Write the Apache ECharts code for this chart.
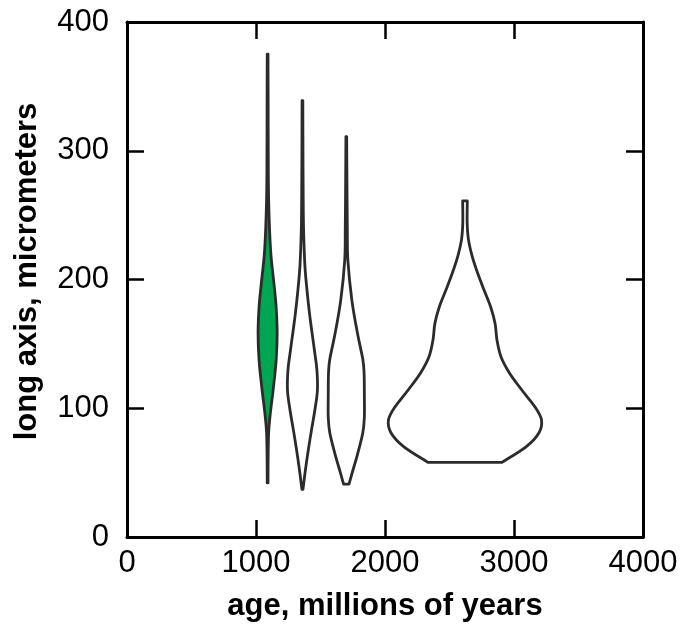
<!DOCTYPE html>
<html>
<head>
<meta charset="utf-8">
<script src="https://cdn.jsdelivr.net/npm/echarts@6/dist/echarts.min.js"></script>
<style>
  html, body { margin: 0; padding: 0; background: #fff; }
  #chart { width: 683px; height: 633px; }
</style>
</head>
<body>
<div id="chart"></div>
<script>
// ages (x centres of the violins), millions of years
const violinAges = [1090, 1360, 1700, 2620];
const violinFills = ['#00a651', 'none', 'none', 'none'];

// long axis levels (micrometers) and half-widths (in age units) for each violin
const v1Y = [42, 60, 81, 96, 116, 137, 158, 179, 197, 223, 262, 300, 340, 375];
const v1W = [3, 4, 8, 21, 45, 66, 74, 66, 49, 23, 8, 5, 4, 3];

const v2Y = [37, 52, 68, 83, 99, 114, 130, 145, 171, 192, 211, 238, 262, 300, 339];
const v2W = [4, 23, 46, 70, 97, 116, 112, 93, 58, 35, 19, 9, 6, 4, 3];

const v3Y = [41, 50, 65, 81, 93, 110, 127, 138, 158, 184, 215, 238, 277, 311];
const v3W = [21, 46, 89, 128, 140, 140, 138, 128, 87, 43, 12, 8, 5, 3];

const v4Y = [58, 70, 81, 91, 101, 114, 127, 140, 153, 166, 179, 192, 205, 218, 231, 244, 261];
const v4W = [287, 473, 574, 593, 543, 442, 347, 279, 248, 233, 198, 147, 98, 56, 27, 17, 18];

const violinYs = [v1Y, v2Y, v3Y, v4Y];
const violinWs = [v1W, v2W, v3W, v4W];

const xTicks = { min: 0, max: 4000, interval: 1000 };
const yTicks = { min: 0, max: 400, interval: 100 };

const font = 'Liberation Sans, Arial, Helvetica, sans-serif';

let myChart = echarts.init(document.getElementById('chart'));

// catmull-rom curve through the points of one side, as svg commands
function curveThrough(p) {
    let d = '';
    for (let i = 0; i < p.length - 1; i++) {
        let p0 = p[i - 1] || p[i], p1 = p[i], p2 = p[i + 1], p3 = p[i + 2] || p[i + 1];
        let c1 = [p1[0] + (p2[0] - p0[0]) / 6, p1[1] + (p2[1] - p0[1]) / 6];
        let c2 = [p2[0] - (p3[0] - p1[0]) / 6, p2[1] - (p3[1] - p1[1]) / 6];
        d += ' C' + c1[0] + ',' + c1[1] + ' ' + c2[0] + ',' + c2[1] + ' ' + p2[0] + ',' + p2[1];
    }
    return d;
}

function frameAxis(extra) {
    return Object.assign({
        type: 'value',
        axisLine: { show: true, onZero: false, lineStyle: { color: '#000', width: 3 } },
        axisTick: { show: true, inside: true, length: 17, lineStyle: { color: '#000', width: 2.5 } },
        splitLine: { show: false },
        axisLabel: { show: false }
    }, extra);
}

let option = {
    animation: false,
    backgroundColor: '#fff',
    grid: { left: 127, right: 40, top: 22, bottom: 96, containLabel: false },
    xAxis: [
        frameAxis(Object.assign({}, xTicks, {
            position: 'bottom',
            axisLabel: { show: true, color: '#000', fontSize: 31, fontFamily: font, margin: 11,
                formatter: v => String(v) },
            name: 'age, millions of years',
            nameLocation: 'middle',
            nameGap: 54,
            nameTextStyle: { color: '#000', fontSize: 31, fontWeight: 'bold', fontFamily: font }
        })),
        frameAxis(Object.assign({}, xTicks, { position: 'top' }))
    ],
    yAxis: [
        frameAxis(Object.assign({}, yTicks, {
            position: 'left',
            axisLabel: { show: true, color: '#000', fontSize: 31, fontFamily: font, margin: 18,
                formatter: v => String(v) },
            name: 'long axis, micrometers',
            nameLocation: 'middle',
            nameGap: 84,
            nameTextStyle: { color: '#000', fontSize: 31, fontWeight: 'bold', fontFamily: font,
                padding: [0, 0, 0, 16] }
        })),
        frameAxis(Object.assign({}, yTicks, { position: 'right' }))
    ],
    series: [{
        type: 'custom',
        xAxisIndex: 0,
        yAxisIndex: 0,
        data: violinAges.map((a, i) => [a, violinYs[i][0], i]),
        renderItem: function (params, api) {
            let i = params.dataIndex;
            let age = api.value(0);
            let ys = violinYs[i], ws = violinWs[i];
            let left = [], right = [];
            for (let k = 0; k < ys.length; k++) {
                left.push(api.coord([age - ws[k], ys[k]]));
                right.push(api.coord([age + ws[k], ys[k]]));
            }
            right.reverse();
            let d = 'M' + left[0][0] + ',' + left[0][1] + curveThrough(left)
                + ' L' + right[0][0] + ',' + right[0][1] + curveThrough(right) + ' Z';
            return {
                type: 'path',
                shape: { pathData: d },
                style: { fill: violinFills[i], stroke: '#2b2b2b', lineWidth: 2.8, lineJoin: 'round' }
            };
        }
    }]
};

myChart.setOption(option);
</script>
</body>
</html>
